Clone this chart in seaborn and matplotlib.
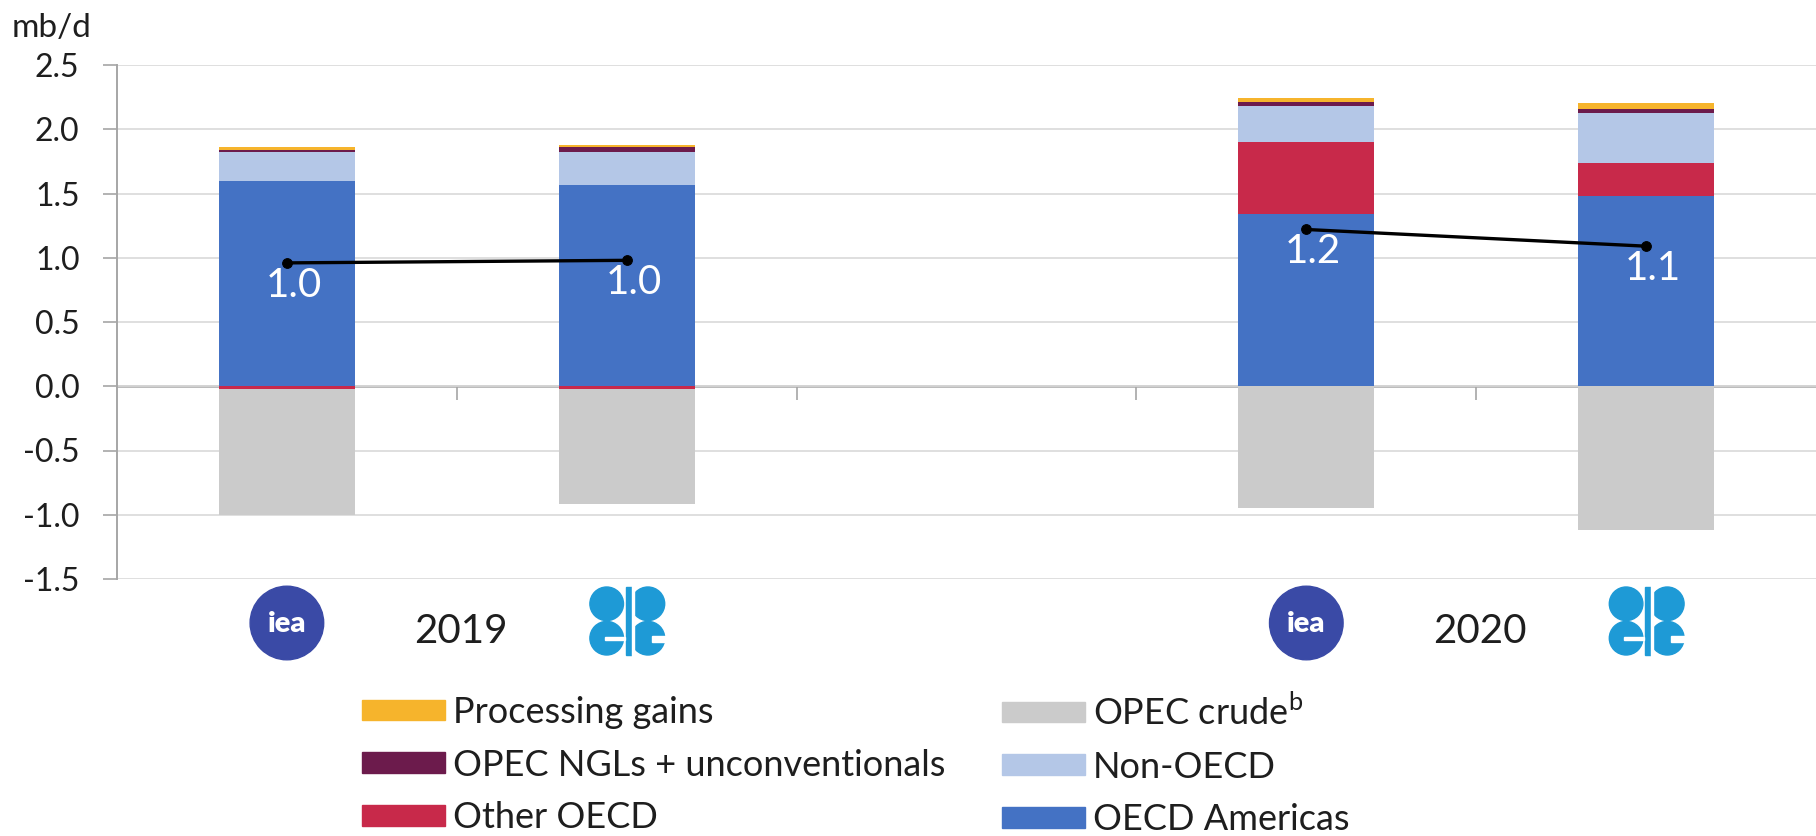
import numpy as np
import matplotlib
matplotlib.use("Agg")
import matplotlib.pyplot as plt
from matplotlib.patches import Circle, Rectangle, Patch
import seaborn as sns

# slots on the category axis (third one left empty between the years)
slots = ["IEA 2019", "OPEC 2019", "", "IEA 2020", "OPEC 2020"]
bars = ["IEA 2019", "OPEC 2019", "IEA 2020", "OPEC 2020"]
years = ["2019", "2020"]

# supply growth components, mb/d
oecd_americas = [1.60, 1.565, 1.34, 1.48]
other_oecd = [-0.025, -0.025, 0.56, 0.26]
non_oecd = [0.225, 0.255, 0.28, 0.39]
opec_ngls = [0.015, 0.04, 0.035, 0.03]
processing_gains = [0.02, 0.02, 0.03, 0.045]
opec_crude = [-0.98, -0.895, -0.95, -1.115]
net_total = [0.96, 0.98, 1.22, 1.09]
net_labels = ["1.0", "1.0", "1.2", "1.1"]

y_ticks = [-1.5, -1.0, -0.5, 0.0, 0.5, 1.0, 1.5, 2.0, 2.5]
y_tick_labels = ["-1.5", "-1.0", "-0.5", "0.0", "0.5", "1.0", "1.5", "2.0", "2.5"]

c_proc = "#F6B42C"
c_ngl = "#6C1B4C"
c_other = "#C8294A"
c_crude = "#CBCBCB"
c_non = "#B4C7E7"
c_am = "#4472C4"

sns.set_style("white")
plt.rcParams["font.family"] = ["Lato", "DejaVu Sans"]
plt.rcParams["mathtext.fontset"] = "custom"
plt.rcParams["mathtext.rm"] = "Lato"
txt = "#1E1E1E"
grey = "#A6A6A6"

fig = plt.figure(figsize=(18.16, 8.36), dpi=100)
W, H = 1816, 836
ax = fig.add_axes([117 / W, 1 - 579 / H, 1 - 117 / W, (579 - 65) / H])

pos = [slots.index(b) for b in bars]
bar_kw = dict(native_scale=True, orient="x", width=0.4, saturation=1,
              errorbar=None, linewidth=0, edgecolor="none", ax=ax)

# positive stack, drawn as cumulative totals from the top layer down
pos_layers = [
    (oecd_americas, c_am),
    ([max(v, 0) for v in other_oecd], c_other),
    (non_oecd, c_non),
    (opec_ngls, c_ngl),
    (processing_gains, c_proc),
]
cum = np.cumsum([l[0] for l in pos_layers], axis=0)
for i in reversed(range(len(pos_layers))):
    sns.barplot(x=pos, y=cum[i], color=pos_layers[i][1], **bar_kw)

# negative stack
neg_other = [min(v, 0) for v in other_oecd]
sns.barplot(x=pos, y=np.add(neg_other, opec_crude), color=c_crude, **bar_kw)
sns.barplot(x=pos, y=neg_other, color=c_other, **bar_kw)

# net change line per year
for yr in years:
    idx = [i for i, b in enumerate(bars) if b.endswith(yr)]
    sns.lineplot(x=[pos[i] for i in idx], y=[net_total[i] for i in idx],
                 color="black", linewidth=2.4, marker="o", markersize=7,
                 markeredgecolor="black", errorbar=None, ax=ax)

for p, v, t in zip(pos, net_total, net_labels):
    ax.text(p + 0.02, v - 0.03, t, color="white", fontsize=29,
            ha="center", va="top", zorder=5)

ax.set_xlim(-0.5, 4.5)
ax.set_ylim(-1.5, 2.5)
ax.set_yticks(y_ticks)
ax.set_yticklabels(y_tick_labels)
ax.set_xticks([0.5, 1.5, 2.5, 3.5])
ax.set_xticklabels([])
ax.set_xlabel("")
ax.set_ylabel("")
ax.set_axisbelow(True)
ax.yaxis.grid(True, color="#D9D9D9", linewidth=1.2)
ax.xaxis.grid(False)
for s in ["top", "right"]:
    ax.spines[s].set_visible(False)
ax.spines["left"].set_color(grey)
ax.spines["left"].set_linewidth(1.4)
ax.spines["bottom"].set_position(("data", 0))
ax.spines["bottom"].set_color(grey)
ax.spines["bottom"].set_linewidth(1.8)
ax.spines["bottom"].set_zorder(0.5)
ax.tick_params(axis="y", length=10, width=1.2, color=grey, pad=17,
               labelsize=23, labelcolor=txt, left=True)
ax.tick_params(axis="x", length=10, width=1.2, color=grey, bottom=True,
               direction="out")

fig.text(12 / W, 1 - 37 / H, "mb/d", fontsize=24, color=txt, va="baseline")

# year labels between the two bars of each year
for yr in years:
    idx = [pos[i] for i, b in enumerate(bars) if b.endswith(yr)]
    ax.text(np.mean(idx) + 0.012, -1.907, yr, fontsize=29, color=txt,
            ha="center", va="center", clip_on=False)


def logo_axes(xd, size=80, cy=623):
    xp = ax.transData.transform((xd, 0))[0]
    lax = fig.add_axes([(xp - size / 2) / W, 1 - (cy + size / 2) / H,
                        size / W, size / H])
    lax.set_xlim(-1, 1)
    lax.set_ylim(-1, 1)
    lax.set_aspect("equal")
    lax.axis("off")
    return lax


def draw_iea(xd):
    lax = logo_axes(xd)
    lax.add_patch(Circle((0, 0), 0.92, color="#3A4AA6"))
    lax.text(0, -0.02, "iea", color="white", fontsize=21, fontweight="heavy",
             ha="center", va="center")


def draw_opec(xd):
    lax = logo_axes(xd, cy=621)
    b = "#1E9AD6"
    for cx, cy in [(-0.5, 0.43), (0.53, 0.43), (-0.5, -0.43), (0.53, -0.43)]:
        lax.add_patch(Circle((cx, cy), 0.42, color=b))
    lax.add_patch(Rectangle((-0.02, -0.85), 0.15, 1.7, color=b))
    lax.add_patch(Rectangle((0.13, -0.9), 0.04, 1.8, color="white"))
    lax.add_patch(Rectangle((-0.55, -0.48), 0.5, 0.08, color="white"))
    lax.add_patch(Rectangle((0.62, -0.52), 0.4, 0.15, color="white"))


for b, p in zip(bars, pos):
    if b.startswith("IEA"):
        draw_iea(p)
    else:
        draw_opec(p)

# legend in two columns, as in the source
col1 = [("Processing gains", c_proc), ("OPEC NGLs + unconventionals", c_ngl),
        ("Other OECD", c_other)]
col2 = [("OPEC crude$^{\\mathrm{b}}$", c_crude), ("Non-OECD", c_non),
        ("OECD Americas", c_am)]
for col, x0 in [(col1, 362), (col2, 1002)]:
    fig.legend([Patch(color=c) for _, c in col], [n for n, _ in col],
               loc="center left", bbox_to_anchor=(x0 / W, 1 - 765 / H),
               frameon=False, fontsize=26, handlelength=2.3, handleheight=0.5,
               handletextpad=0.22, labelspacing=0.55, borderpad=0,
               borderaxespad=0, labelcolor=txt)

fig.savefig("out.png", dpi=100)
